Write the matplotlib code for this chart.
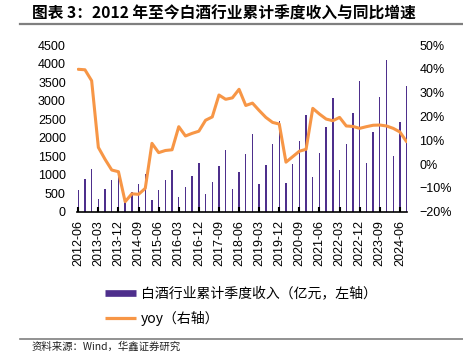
import matplotlib
matplotlib.use("Agg")
import matplotlib.pyplot as plt
from matplotlib.lines import Line2D

plt.rcParams['font.family'] = ['Liberation Sans', 'Noto Sans CJK SC', 'DejaVu Sans']

quarters = ["2012-06", "2012-09", "2012-12",
            "2013-03", "2013-06", "2013-09", "2013-12",
            "2014-03", "2014-06", "2014-09", "2014-12",
            "2015-03", "2015-06", "2015-09", "2015-12",
            "2016-03", "2016-06", "2016-09", "2016-12",
            "2017-03", "2017-06", "2017-09", "2017-12",
            "2018-03", "2018-06", "2018-09", "2018-12",
            "2019-03", "2019-06", "2019-09", "2019-12",
            "2020-03", "2020-06", "2020-09", "2020-12",
            "2021-03", "2021-06", "2021-09", "2021-12",
            "2022-03", "2022-06", "2022-09", "2022-12",
            "2023-03", "2023-06", "2023-09", "2023-12",
            "2024-03", "2024-06", "2024-09"]

revenue = [586, 870, 1140, 343, 605, 843, 1110, 290, 523, 748, 1018, 316,
           580, 848, 1134, 405, 675, 968, 1311, 482, 806, 1238, 1666, 613,
           1063, 1549, 2094, 748, 1270, 1824, 2440, 766, 1287, 1909, 2597, 941,
           1576, 2278, 3061, 1126, 1828, 2656, 3537, 1306, 2143, 3097, 4096, 1495,
           2422, 3386]

yoy = [39.8, 39.6, 35.0, 7.0, 2.0, -2.5, -3.2, -15.8, -12.5, -12.7, -10.2, 8.7,
       4.8, 5.7, 6.0, 15.7, 11.8, 12.9, 13.8, 18.4, 19.8, 29.0, 27.2, 27.8,
       31.4, 24.6, 25.6, 22.5, 19.6, 17.5, 16.8, 0.8, 3.1, 5.4, 6.2, 23.4,
       21.0, 18.9, 18.2, 19.6, 16.0, 15.8, 15.0, 15.7, 16.3, 16.4, 16.0, 15.0,
       13.5, 9.4]

left_ticks = [0, 500, 1000, 1500, 2000, 2500, 3000, 3500, 4000, 4500]
right_ticks = [-20, -10, 0, 10, 20, 30, 40, 50]

bar_color = '#4E2F8C'
line_color = '#F79646'

fig = plt.figure(figsize=(4.64, 3.53), dpi=100)
ax = fig.add_axes([0.1659, 0.4003, 0.7112, 0.4722])
x = list(range(len(quarters)))
ax.bar(x, revenue, width=0.2, color=bar_color, linewidth=0)
ax.set_ylim(0, 4500)
ax.set_xlim(-0.19, 49.06)
ax.set_yticks(left_ticks)
ax.set_yticklabels([str(v) for v in left_ticks])
ax.tick_params(axis='y', length=0, pad=8, labelsize=9)
ax.set_xticks(x[::3])
ax.set_xticklabels(quarters[::3], rotation=90)
ax.tick_params(axis='x', direction='in', length=3.5, width=1.5, pad=6, labelsize=9)
for s in ['top', 'left', 'right']:
    ax.spines[s].set_visible(False)
ax.spines['bottom'].set_linewidth(1.2)
ax.spines['bottom'].set_color('black')

ax2 = ax.twinx()
ax2.plot(x, yoy, color=line_color, linewidth=2.2, solid_joinstyle='round', solid_capstyle='round')
ax2.set_ylim(-20, 50)
ax2.set_yticks(right_ticks)
ax2.set_yticklabels([(f"{v}%").replace('-', '\u2212') for v in right_ticks])
ax2.tick_params(axis='y', length=0, pad=9, labelsize=9)
for s in ['top', 'left', 'right', 'bottom']:
    ax2.spines[s].set_visible(False)
ax2.set_xlim(-0.19, 49.06)

# title and decorative lines
fig.text(0.068, 0.962, "图表 3：2012 年至今白酒行业累计季度收入与同比增速",
         family=['Noto Sans CJK SC'], fontweight='bold', fontsize=11.3,
         ha='left', va='center', color='black')
fig.add_artist(Line2D([0.043, 1.0], [0.931, 0.931], color='#7f7f7f', linewidth=1.6,
                      transform=fig.transFigure))
fig.add_artist(Line2D([0.043, 1.0], [0.0388, 0.0388], color='#7f7f7f', linewidth=1.2,
                      transform=fig.transFigure))
fig.text(0.068, 0.002, "资料来源：Wind，华鑫证券研究", family=['Noto Sans CJK SC', 'DejaVu Sans'],
         fontsize=7.5, ha='left', va='bottom', color='#222222')

handles = [Line2D([], [], color=bar_color, linewidth=4.8, solid_capstyle='butt'),
           Line2D([], [], color=line_color, linewidth=2.3, solid_capstyle='butt')]
labels = ["白酒行业累计季度收入（亿元，左轴）", "yoy（右轴）"]
fig.legend(handles, labels, loc='upper left', bbox_to_anchor=(0.2263, 0.1884),
           frameon=False, borderpad=0, borderaxespad=0, handlelength=2.23,
           handletextpad=0.36, labelspacing=0.72,
           prop={'family': ['Noto Sans CJK SC', 'DejaVu Sans'], 'size': 10})

fig.savefig("out.png", dpi=100)
